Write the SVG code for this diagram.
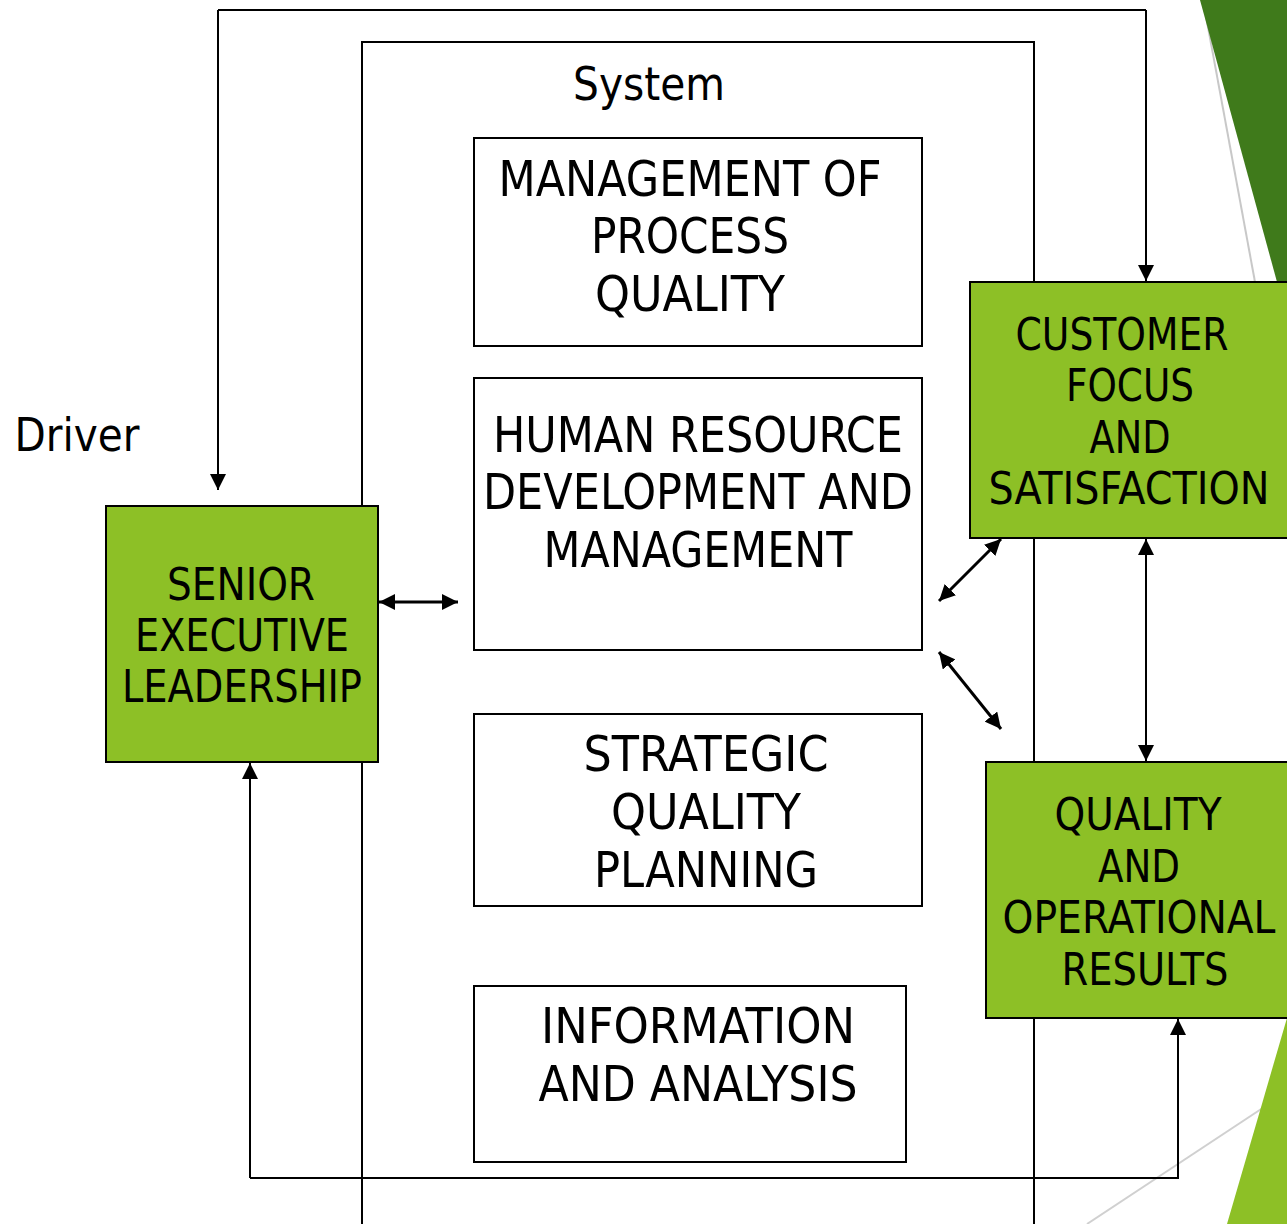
<svg xmlns="http://www.w3.org/2000/svg" width="1287" height="1224" viewBox="0 0 1287 1224">
<style>
text{font-family:"DejaVu Sans","Liberation Sans",sans-serif;font-stretch:condensed;fill:#000;text-anchor:middle}
.big{font-size:50px}
.mid{font-size:44px}
.box{fill:#fff;stroke:#000;stroke-width:2}
.green{fill:#8DC026;stroke:#000;stroke-width:2}
.ln{fill:none;stroke:#000;stroke-width:2}
.dbl{fill:none;stroke:#000;stroke-width:3}
</style>
<defs>
<marker id="ah" viewBox="0 0 16 16" refX="16" refY="8" markerWidth="16" markerHeight="16" markerUnits="userSpaceOnUse" orient="auto-start-reverse">
<path d="M0,0 L16,8 L0,16 Z" fill="#000"/>
</marker>
</defs>
<g id="decor">
<line x1="1203" y1="0" x2="1255" y2="282" stroke="#c8c8c8" stroke-width="2"/>
<polygon points="1200,0 1287,0 1287,282 1277,282" fill="#3F7A1B"/>
<line x1="1087" y1="1224" x2="1287" y2="1092" stroke="#d0d0d0" stroke-width="2"/>
<polygon points="1287,1018 1287,1224 1227,1224" fill="#8DC026"/>
</g>
<g id="system">
<polyline class="ln" points="362,1224 362,42 1034,42 1034,1224"/>
<text x="649" y="100" style="font-size:46px" textLength="152" lengthAdjust="spacingAndGlyphs">System</text>
</g>
<g id="driver-label">
<text x="77" y="451" style="font-size:46px" textLength="125" lengthAdjust="spacingAndGlyphs">Driver</text>
</g>
<g id="connectors">
<polyline class="ln" points="218,10 1146,10"/>
<polyline class="ln" points="218,10 218,490" marker-end="url(#ah)"/>
<polyline class="ln" points="1146,10 1146,281" marker-end="url(#ah)"/>
<line class="dbl" x1="379" y1="602" x2="458" y2="602" marker-start="url(#ah)" marker-end="url(#ah)"/>
<line class="dbl" x1="1001" y1="539" x2="939" y2="601" marker-start="url(#ah)" marker-end="url(#ah)"/>
<line class="dbl" x1="939" y1="652" x2="1001" y2="729" marker-start="url(#ah)" marker-end="url(#ah)"/>
<line class="ln" x1="1146" y1="539" x2="1146" y2="761" marker-start="url(#ah)" marker-end="url(#ah)"/>
<polyline class="ln" points="250,1178 1178,1178 1178,1019" marker-end="url(#ah)"/>
<polyline class="ln" points="250,1178 250,763" marker-end="url(#ah)"/>
</g>
<g id="process-quality">
<rect class="box" x="474" y="138" width="448" height="208"/>
<text class="big" x="690" y="196" textLength="383" lengthAdjust="spacingAndGlyphs">MANAGEMENT OF</text>
<text class="big" x="690" y="253" textLength="198" lengthAdjust="spacingAndGlyphs">PROCESS</text>
<text class="big" x="690" y="311" textLength="190" lengthAdjust="spacingAndGlyphs">QUALITY</text>
</g>
<g id="human-resource">
<rect class="box" x="474" y="378" width="448" height="272"/>
<text class="big" x="698" y="452" textLength="410" lengthAdjust="spacingAndGlyphs">HUMAN RESOURCE</text>
<text class="big" x="698" y="509" textLength="430" lengthAdjust="spacingAndGlyphs">DEVELOPMENT AND</text>
<text class="big" x="698" y="567" textLength="309" lengthAdjust="spacingAndGlyphs">MANAGEMENT</text>
</g>
<g id="strategic">
<rect class="box" x="474" y="714" width="448" height="192"/>
<text class="big" x="706" y="771" textLength="245" lengthAdjust="spacingAndGlyphs">STRATEGIC</text>
<text class="big" x="706" y="829" textLength="190" lengthAdjust="spacingAndGlyphs">QUALITY</text>
<text class="big" x="706" y="887" textLength="224" lengthAdjust="spacingAndGlyphs">PLANNING</text>
</g>
<g id="information">
<rect class="box" x="474" y="986" width="432" height="176"/>
<text class="big" x="698" y="1043" textLength="314" lengthAdjust="spacingAndGlyphs">INFORMATION</text>
<text class="big" x="698" y="1101" textLength="319" lengthAdjust="spacingAndGlyphs">AND ANALYSIS</text>
</g>
<g id="senior">
<rect class="green" x="106" y="506" width="272" height="256"/>
<text class="mid" x="241" y="600" textLength="148" lengthAdjust="spacingAndGlyphs">SENIOR</text>
<text class="mid" x="242" y="651" textLength="214" lengthAdjust="spacingAndGlyphs">EXECUTIVE</text>
<text class="mid" x="242" y="702" textLength="240" lengthAdjust="spacingAndGlyphs">LEADERSHIP</text>
</g>
<g id="customer">
<rect class="green" x="970" y="282" width="320" height="256"/>
<text class="mid" x="1122" y="350" textLength="213" lengthAdjust="spacingAndGlyphs">CUSTOMER</text>
<text class="mid" x="1130" y="401" textLength="128" lengthAdjust="spacingAndGlyphs">FOCUS</text>
<text class="mid" x="1130" y="453" textLength="81" lengthAdjust="spacingAndGlyphs">AND</text>
<text class="mid" x="1129" y="504" textLength="281" lengthAdjust="spacingAndGlyphs">SATISFACTION</text>
</g>
<g id="quality-results">
<rect class="green" x="986" y="762" width="304" height="256"/>
<text class="mid" x="1138" y="830" textLength="167" lengthAdjust="spacingAndGlyphs">QUALITY</text>
<text class="mid" x="1139" y="882" textLength="82" lengthAdjust="spacingAndGlyphs">AND</text>
<text class="mid" x="1139" y="933" textLength="273" lengthAdjust="spacingAndGlyphs">OPERATIONAL</text>
<text class="mid" x="1145" y="985" textLength="167" lengthAdjust="spacingAndGlyphs">RESULTS</text>
</g>
</svg>
